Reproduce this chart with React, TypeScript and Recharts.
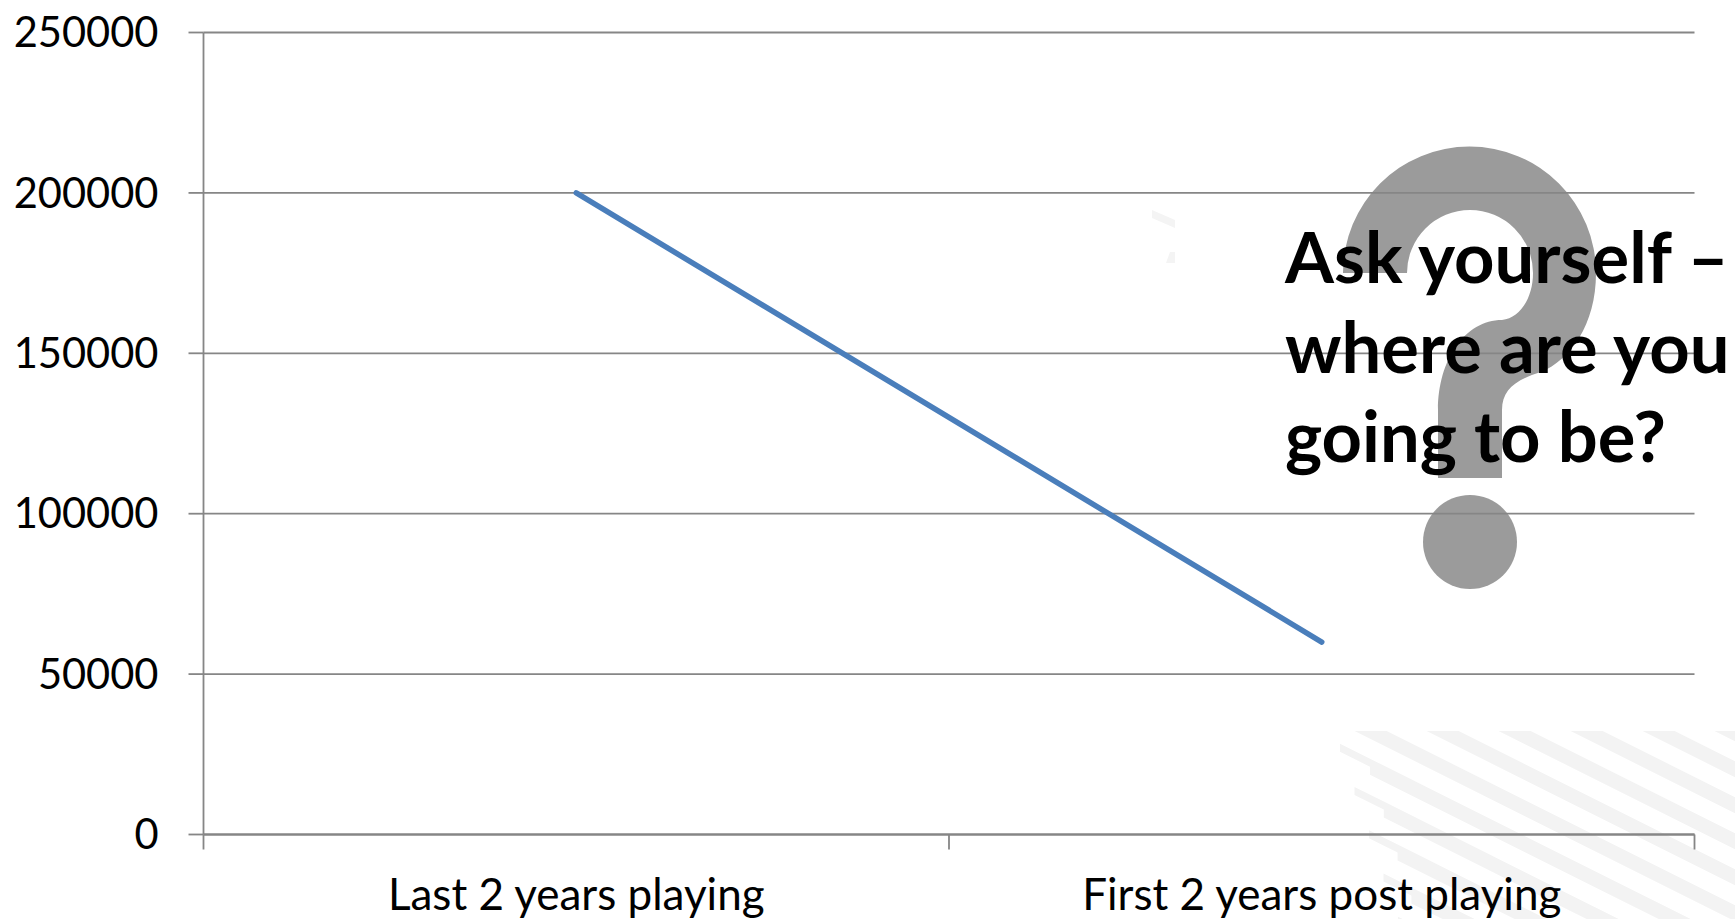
import React from "react";
import { LineChart, Line, XAxis, YAxis, CartesianGrid } from "recharts";

const categories = ["Last 2 years playing", "First 2 years post playing"];
const seriesValues = [200000, 60000];
const yTicks = [0, 50000, 100000, 150000, 200000, 250000];
const calloutLines = ["Ask yourself –", "where are you", "going to be?"];
const stripeIndexes = [-8, -7, -6, -5, -4, -3, -2, -1, 0, 1, 2, 3, 4, 5];

const rows = categories.map((name, i) => ({ name, value: seriesValues[i] }));

const W = 1735;
const H = 919;
const PLOT_L = 203.5;
const PLOT_R = 1694.5;
const AXIS = "#868686";
const FONT = "Lato, sans-serif";
const HALF_BAND = (PLOT_R - PLOT_L) / 4;

function CategoryTick(props: any) {
  const { x, y, payload, index } = props;
  return (
    <g>
      <line x1={x - HALF_BAND} x2={x - HALF_BAND} y1={y} y2={y + 15} stroke={AXIS} strokeWidth={1.8} />
      {index === categories.length - 1 && (
        <line x1={x + HALF_BAND} x2={x + HALF_BAND} y1={y} y2={y + 15} stroke={AXIS} strokeWidth={1.8} />
      )}
      <text x={x} y={y + 75.5} textAnchor="middle" fontFamily={FONT} fontSize={44} fill="#000">
        {payload.value}
      </text>
    </g>
  );
}

function stripePath(k: number) {
  const upper = (X: number) => 720 + 0.5 * (X - 1320) - 22.3 + 36 * k;
  const fullFrom = k >= 1 ? 1370 + (k - 1) * 13.8 : 1300;
  const far = 1800;
  let d = `M${fullFrom},${upper(fullFrom)} L${far},${upper(far)} L${far},${upper(far) + 16} L${fullFrom},${upper(fullFrom) + 16} Z`;
  if (k >= 1) {
    const stubFrom = 1340 + (k - 1) * 14.5;
    d += ` M${stubFrom},${upper(stubFrom)} L${fullFrom},${upper(fullFrom)} L${fullFrom},${upper(fullFrom) + 8} L${stubFrom},${upper(stubFrom) + 8} Z`;
  }
  return d;
}

function Backdrop() {
  return (
    <svg width={W} height={H} style={{ position: "absolute", left: 0, top: 0 }}>
      <defs>
        <clipPath id="stripeClip">
          <rect x={1300} y={731} width={435} height={188} />
        </clipPath>
      </defs>
      <g clipPath="url(#stripeClip)" fill="#f3f3f3">
        {stripeIndexes.map((k) => (
          <path key={k} d={stripePath(k)} />
        ))}
      </g>
      <path d="M1152,210 L1175,220 L1175,228 L1152,218 Z" fill="#f4f4f4" />
      <path d="M1170,252 L1175,252 L1175,263 L1166,263 Z" fill="#f4f4f4" />
      <path
        fill="#9b9b9b"
        d="M1343,273 A126.5,126.5 0 1 1 1596,273 C1596,325 1570,360 1541,372 C1515,380 1502,390 1502,410 L1502,478 L1438,478 L1438,410 C1438,360 1465,320 1502,320 C1520,318 1533,298 1533,273 A63,63 0 1 0 1407,273 Z"
      />
      <circle cx={1470} cy={542} r={47} fill="#9b9b9b" />
    </svg>
  );
}

function Callout() {
  return (
    <svg width={W} height={H} style={{ position: "absolute", left: 0, top: 0, pointerEvents: "none" }}>
      {calloutLines.map((t, i) => (
        <text key={t} x={1285} y={283 + i * 89.5} fontFamily={FONT} fontWeight={700} fontSize={70.5} fill="#000">
          {t}
        </text>
      ))}
    </svg>
  );
}

export default function App() {
  return (
    <div style={{ position: "absolute", left: 0, top: 0, width: W, height: H, overflow: "hidden", background: "#fff" }}>
      <Backdrop />
      <div style={{ position: "absolute", left: 0, top: 0 }}>
        <LineChart width={W} height={H} data={rows} margin={{ top: 32.5, right: W - PLOT_R, bottom: 0, left: 0 }}>
          <CartesianGrid vertical={false} stroke={AXIS} strokeWidth={1.8} />
          <XAxis
            dataKey="name"
            scale="band"
            height={84.5}
            interval={0}
            tickLine={false}
            tickSize={0}
            tickMargin={0}
            axisLine={{ stroke: AXIS, strokeWidth: 1.8 }}
            tick={<CategoryTick />}
          />
          <YAxis
            width={PLOT_L}
            domain={[0, 250000]}
            ticks={yTicks}
            interval={0}
            tickSize={15}
            tickMargin={30}
            tickLine={{ stroke: AXIS, strokeWidth: 1.8 }}
            axisLine={{ stroke: AXIS, strokeWidth: 1.8 }}
            tick={{ fontFamily: FONT, fontSize: 41.6, fill: "#000" }}
          />
          <Line
            dataKey="value"
            stroke="#4a7ebb"
            strokeWidth={5.5}
            strokeLinecap="round"
            dot={false}
            activeDot={false}
            isAnimationActive={false}
          />
        </LineChart>
      </div>
      <Callout />
    </div>
  );
}
